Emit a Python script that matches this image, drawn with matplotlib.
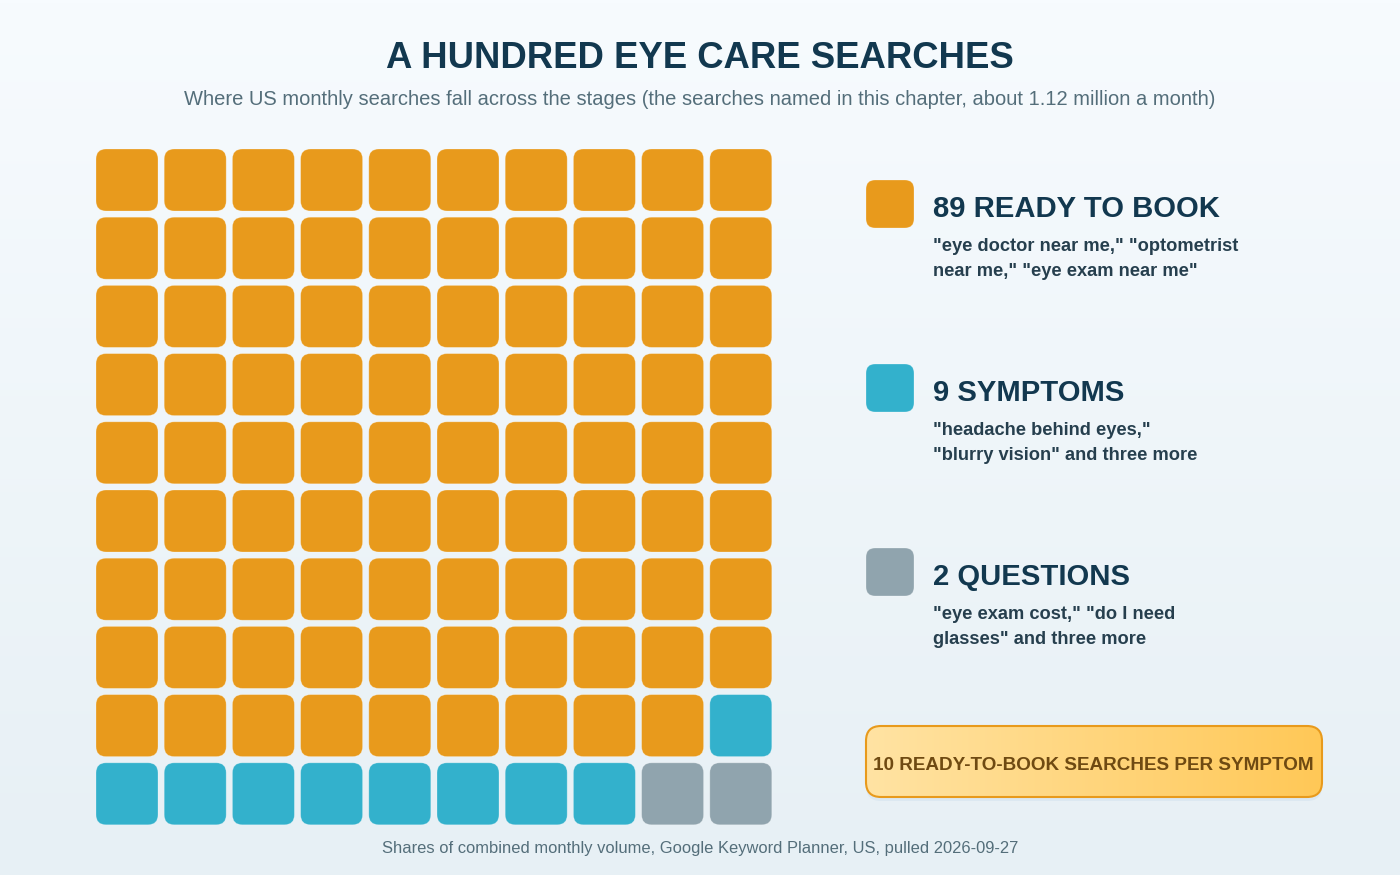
import numpy as np
import matplotlib
matplotlib.use("Agg")
import matplotlib.pyplot as plt
from matplotlib.colors import LinearSegmentedColormap
from matplotlib.patches import FancyBboxPatch

plt.rcParams["font.family"] = ["Liberation Sans", "DejaVu Sans"]

title = "A HUNDRED EYE CARE SEARCHES"
subtitle = ("Where US monthly searches fall across the stages "
            "(the searches named in this chapter, about 1.12 million a month)")
footer = "Shares of combined monthly volume, Google Keyword Planner, US, pulled 2026-09-27"
callout = "10 READY-TO-BOOK SEARCHES PER SYMPTOM"

counts = [89, 9, 2]
stages = ["READY TO BOOK", "SYMPTOMS", "QUESTIONS"]
examples = [
    "\"eye doctor near me,\" \"optometrist\nnear me,\" \"eye exam near me\"",
    "\"headache behind eyes,\"\n\"blurry vision\" and three more",
    "\"eye exam cost,\" \"do I need\nglasses\" and three more",
]
colors = ["#E89A1C", "#33B1CC", "#90A4AE"]

NAVY = "#12384F"
GREY_TEXT = "#546E7A"
BODY = "#263F4E"


def tile(ax, x, y, w, h, r, **kw):
    p = FancyBboxPatch((x + r, y + r), w - 2 * r, h - 2 * r,
                       boxstyle=f"round,pad={r},rounding_size={r}", **kw)
    ax.add_patch(p)
    return p


fig = plt.figure(figsize=(14, 8.75), dpi=100)
ax = fig.add_axes([0, 0, 1, 1])
ax.set_xlim(0, 1400)
ax.set_ylim(875, 0)
ax.axis("off")

# page background, light at the top going to a pale blue-grey
bg = LinearSegmentedColormap.from_list("bg", ["#F7FBFE", "#E7F0F5"])
ax.imshow(np.linspace(0, 1, 256).reshape(-1, 1), cmap=bg, extent=(0, 1400, 875, 0),
          aspect="auto", zorder=0)

ax.text(700, 58, title, ha="center", va="center", fontsize=26.25, fontweight="bold", color=NAVY)
ax.text(700, 99.6, subtitle, ha="center", va="center", fontsize=14.47, color=GREY_TEXT)

# waffle, filled row by row from the top left
fills = np.repeat(colors, counts)
for i, c in enumerate(fills):
    row, col = divmod(i, 10)
    tile(ax, 96 + col * 68.2, 149 + row * 68.2, 62, 62, 10,
         facecolor=c, edgecolor=(1, 1, 1, 0.3), linewidth=0.6, zorder=2)

# legend
for i, (n, name, ex, c) in enumerate(zip(counts, stages, examples, colors)):
    y = 180 + i * 184
    tile(ax, 866, y, 48, 48, 9, facecolor=c, edgecolor=(1, 1, 1, 0.3), linewidth=0.6, zorder=2)
    ax.text(933, y + 29, f"{n} {name}", ha="left", va="center", fontsize=21.1,
            fontweight="bold", color=NAVY)
    ax.text(933, y + 79, ex, ha="left", va="center", fontsize=13.17, fontweight="bold",
            color=BODY, linespacing=1.6)

# callout box
tile(ax, 866, 730, 456, 71, 15, facecolor="#DCE8F1", edgecolor="none", zorder=2)
grad = LinearSegmentedColormap.from_list("box", ["#FFE3A3", "#FFC857"])
im = ax.imshow(np.linspace(0, 1, 256).reshape(1, -1), cmap=grad, extent=(866, 1322, 797, 726),
               aspect="auto", zorder=3)
box = tile(ax, 866, 726, 456, 71, 15, facecolor="none", edgecolor="#E89A1C", linewidth=1.5, zorder=4)
im.set_clip_path(box)
ax.text(1093, 765, callout, ha="center", va="center", fontsize=13.6, fontweight="bold",
        color="#6F4A12", zorder=5)

ax.text(700, 848.5, footer, ha="center", va="center", fontsize=11.93, color=GREY_TEXT)

ax.set_xlim(0, 1400)
ax.set_ylim(875, 0)
fig.savefig("out.png", dpi=100)
